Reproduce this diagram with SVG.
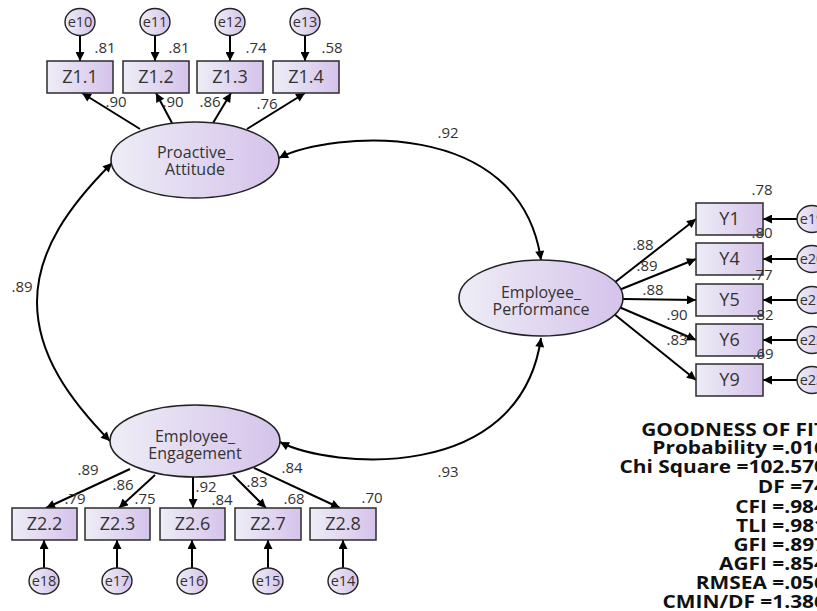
<svg xmlns="http://www.w3.org/2000/svg" width="817" height="611" viewBox="0 0 817 611">
<defs>
<linearGradient id="g" x1="0" y1="0" x2="1" y2="0"><stop offset="0" stop-color="#eeedf6"/><stop offset="1" stop-color="#d5c3eb"/></linearGradient>
<marker id="ah" viewBox="0 0 10 10" refX="10" refY="5" markerWidth="11" markerHeight="9" markerUnits="userSpaceOnUse" orient="auto-start-reverse"><path d="M0,0 L10,5 L0,10 z" fill="#000"/></marker>
</defs>
<style>
.box{fill:url(#g);stroke:#2b2b2b;stroke-width:1.5}
.lat{fill:url(#g);stroke:#222;stroke-width:1.6}
.err{fill:url(#g);stroke:#222;stroke-width:1.4}
text{font-family:"Open Sans","Liberation Sans",sans-serif;fill:#333;text-anchor:middle}
.bt{font-size:18px}
.lt{font-size:16px}
.et{font-size:14.5px}
.n{font-size:15px}
.c path{stroke:#000;stroke-width:2;fill:none;marker-end:url(#ah)}
.c path.cov{marker-start:url(#ah)}
.gof text{font-weight:bold;font-size:18px;fill:#111;text-anchor:end}
</style>
<rect width="817" height="611" fill="#fff"/>

<g id="connectors" class="c">
<path d="M80 35.5 L80 61"/>
<path d="M155 35.5 L155 61"/>
<path d="M230 35.5 L230 61"/>
<path d="M305 35.5 L305 61"/>
<path d="M140 129 L82 93"/>
<path d="M172 123 L156 93"/>
<path d="M213 123 L231 93"/>
<path d="M247 129 L305 93"/>
<path d="M614 283 L696 219"/>
<path d="M619 290 L696 259"/>
<path d="M623 299 L696 300"/>
<path d="M619 307 L696 340"/>
<path d="M614 314 L696 380"/>
<path d="M797 219 L763 219"/>
<path d="M797 259 L763 259"/>
<path d="M797 300 L763 300"/>
<path d="M797 340 L763 340"/>
<path d="M797 380 L763 380"/>
<path d="M130 469 L46 508"/>
<path d="M155 475 L119 508"/>
<path d="M193 477 L193 508"/>
<path d="M233 475 L266 508"/>
<path d="M254 468 L340 508"/>
<path d="M44 568 L44 540"/>
<path d="M117 568 L117 540"/>
<path d="M192 568 L192 540"/>
<path d="M268 568 L268 540"/>
<path d="M343 568 L343 540"/>
<path class="cov" d="M279 158 C330 132 520 115 541 260"/>
<path class="cov" d="M280 442 C330 468 520 485 541 338"/>
<path class="cov" d="M112 163 C70 205 37 250 37 302 C37 355 70 400 110 441"/>
</g>

<g id="e10"><ellipse class="err" cx="80" cy="22" rx="15" ry="13.5"/><text class="et" x="80" y="27">e10</text></g>
<g id="e11"><ellipse class="err" cx="155" cy="22" rx="15" ry="13.5"/><text class="et" x="155" y="27">e11</text></g>
<g id="e12"><ellipse class="err" cx="230" cy="22" rx="15" ry="13.5"/><text class="et" x="230" y="27">e12</text></g>
<g id="e13"><ellipse class="err" cx="305" cy="22" rx="15" ry="13.5"/><text class="et" x="305" y="27">e13</text></g>

<g id="Z1_1"><rect class="box" x="47" y="61" width="66" height="32"/><text class="bt" x="80" y="83.4">Z1.1</text></g>
<g id="Z1_2"><rect class="box" x="123" y="61" width="66" height="32"/><text class="bt" x="156" y="83.4">Z1.2</text></g>
<g id="Z1_3"><rect class="box" x="197" y="61" width="66" height="32"/><text class="bt" x="230" y="83.4">Z1.3</text></g>
<g id="Z1_4"><rect class="box" x="273" y="61" width="66" height="32"/><text class="bt" x="306" y="83.4">Z1.4</text></g>

<g id="Proactive_Attitude"><ellipse class="lat" cx="195" cy="160" rx="84" ry="38"/><text class="lt" x="195" y="158">Proactive_</text><text class="lt" x="195" y="175">Attitude</text></g>
<g id="Employee_Performance"><ellipse class="lat" cx="541" cy="298" rx="82" ry="38"/><text class="lt" x="541" y="298">Employee_</text><text class="lt" x="541" y="315">Performance</text></g>
<g id="Employee_Engagement"><ellipse class="lat" cx="195" cy="441" rx="85" ry="36"/><text class="lt" x="195" y="442">Employee_</text><text class="lt" x="195" y="459">Engagement</text></g>

<g id="Y1"><rect class="box" x="696" y="203" width="67" height="32"/><text class="bt" x="729.5" y="225.4">Y1</text></g>
<g id="Y4"><rect class="box" x="696" y="243" width="67" height="32"/><text class="bt" x="729.5" y="265.4">Y4</text></g>
<g id="Y5"><rect class="box" x="696" y="284" width="67" height="32"/><text class="bt" x="729.5" y="306.4">Y5</text></g>
<g id="Y6"><rect class="box" x="696" y="324" width="67" height="32"/><text class="bt" x="729.5" y="346.4">Y6</text></g>
<g id="Y9"><rect class="box" x="696" y="364" width="67" height="32"/><text class="bt" x="729.5" y="386.4">Y9</text></g>

<g id="e19"><ellipse class="err" cx="812" cy="219" rx="15" ry="13.5"/><text class="et" x="812" y="224">e19</text></g>
<g id="e20"><ellipse class="err" cx="812" cy="259" rx="15" ry="13.5"/><text class="et" x="812" y="264">e20</text></g>
<g id="e21"><ellipse class="err" cx="812" cy="300" rx="15" ry="13.5"/><text class="et" x="812" y="305">e21</text></g>
<g id="e22"><ellipse class="err" cx="812" cy="340" rx="15" ry="13.5"/><text class="et" x="812" y="345">e22</text></g>
<g id="e23"><ellipse class="err" cx="812" cy="380" rx="15" ry="13.5"/><text class="et" x="812" y="385">e23</text></g>

<g id="Z2_2"><rect class="box" x="12" y="508" width="65" height="32"/><text class="bt" x="44.5" y="530.4">Z2.2</text></g>
<g id="Z2_3"><rect class="box" x="85" y="508" width="65" height="32"/><text class="bt" x="117.5" y="530.4">Z2.3</text></g>
<g id="Z2_6"><rect class="box" x="160" y="508" width="65" height="32"/><text class="bt" x="192.5" y="530.4">Z2.6</text></g>
<g id="Z2_7"><rect class="box" x="235" y="508" width="66" height="32"/><text class="bt" x="268" y="530.4">Z2.7</text></g>
<g id="Z2_8"><rect class="box" x="310" y="508" width="66" height="32"/><text class="bt" x="343" y="530.4">Z2.8</text></g>

<g id="e18"><ellipse class="err" cx="44" cy="581" rx="15" ry="13"/><text class="et" x="44" y="586">e18</text></g>
<g id="e17"><ellipse class="err" cx="117" cy="581" rx="15" ry="13"/><text class="et" x="117" y="586">e17</text></g>
<g id="e16"><ellipse class="err" cx="192" cy="581" rx="15" ry="13"/><text class="et" x="192" y="586">e16</text></g>
<g id="e15"><ellipse class="err" cx="268" cy="581" rx="15" ry="13"/><text class="et" x="268" y="586">e15</text></g>
<g id="e14"><ellipse class="err" cx="343" cy="581" rx="15" ry="13"/><text class="et" x="343" y="586">e14</text></g>

<g id="labels" class="n">
<text class="n" x="105" y="53">.81</text>
<text class="n" x="179" y="53">.81</text>
<text class="n" x="256" y="53">.74</text>
<text class="n" x="332" y="53">.58</text>
<text class="n" x="116" y="107">.90</text>
<text class="n" x="173" y="107">.90</text>
<text class="n" x="210" y="107">.86</text>
<text class="n" x="267" y="109">.76</text>
<text class="n" x="448" y="138">.92</text>
<text class="n" x="448" y="477">.93</text>
<text class="n" x="22" y="292">.89</text>
<text class="n" x="762" y="195">.78</text>
<text class="n" x="762" y="238">.80</text>
<text class="n" x="762" y="280">.77</text>
<text class="n" x="763" y="320">.82</text>
<text class="n" x="763" y="359">.69</text>
<text class="n" x="643" y="250">.88</text>
<text class="n" x="647" y="271">.89</text>
<text class="n" x="653" y="295">.88</text>
<text class="n" x="677" y="320">.90</text>
<text class="n" x="677" y="345">.83</text>
<text class="n" x="88" y="475">.89</text>
<text class="n" x="75" y="504">.79</text>
<text class="n" x="123" y="490">.86</text>
<text class="n" x="145" y="504">.75</text>
<text class="n" x="206" y="492">.92</text>
<text class="n" x="222" y="505">.84</text>
<text class="n" x="257" y="487">.83</text>
<text class="n" x="294" y="504">.68</text>
<text class="n" x="292" y="473">.84</text>
<text class="n" x="372" y="503">.70</text>
</g>

<g id="goodness_of_fit" class="gof" transform="translate(826,0) scale(1.16,1)">
<text x="0" y="436">GOODNESS OF FIT</text>
<text x="0" y="454">Probability =.016</text>
<text x="0" y="473">Chi Square =102.570</text>
<text x="0" y="493">DF =74</text>
<text x="0" y="513">CFI =.984</text>
<text x="0" y="532">TLI =.981</text>
<text x="0" y="551">GFI =.897</text>
<text x="0" y="570">AGFI =.854</text>
<text x="0" y="589">RMSEA =.056</text>
<text x="0" y="608">CMIN/DF =1.386</text>
</g>
</svg>
